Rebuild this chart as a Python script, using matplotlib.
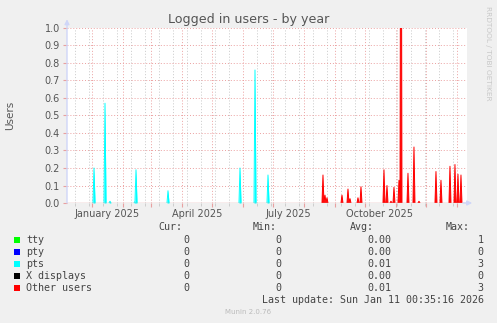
# Munin "Logged in users - by year" recreation
import matplotlib
matplotlib.use('Agg')
import matplotlib.pyplot as plt
import matplotlib.dates as mdates
import numpy as np

# graph time window (1 pixel = 1 day)
start = np.datetime64('2024-12-07')
end = np.datetime64('2026-01-11T00:35')

# pts sessions (cyan spikes)
pts_days = ['2025-01-03', '2025-01-14', '2025-01-19', '2025-02-13', '2025-02-14',
            '2025-03-18', '2025-05-29', '2025-06-13', '2025-06-26']
pts_vals = [0.2, 0.57, 0.01, 0.01, 0.19, 0.07, 0.2, 0.76, 0.16]

# other users (red spikes)
other_days = ['2025-08-20', '2025-08-22', '2025-08-24', '2025-09-08', '2025-09-14',
              '2025-09-16', '2025-09-24', '2025-09-27', '2025-10-20', '2025-10-23',
              '2025-10-27', '2025-10-30', '2025-11-04', '2025-11-06', '2025-11-13',
              '2025-11-19', '2025-11-24', '2025-12-11', '2025-12-16', '2025-12-25',
              '2025-12-30', '2026-01-02', '2026-01-05']
other_vals = [0.16, 0.045, 0.03, 0.045, 0.08,
              0.025, 0.03, 0.093, 0.19, 0.1,
              0.01, 0.09, 0.13, 3.0, 0.17,
              0.32, 0.01, 0.18, 0.13, 0.21,
              0.22, 0.165, 0.16]

# legend table
series_names = ['tty', 'pty', 'pts', 'X displays', 'Other users']
series_colors = ['#00FF00', '#0000FF', '#00FFFF', '#000000', '#FF0000']
cur_vals = ['0', '0', '0', '0', '0']
min_vals = ['0', '0', '0', '0', '0']
avg_vals = ['0.00', '0.00', '0.01', '0.00', '0.01']
max_vals = ['1', '0', '3', '0', '3']

month_labels = ['January 2025', 'April 2025', 'July 2025', 'October 2025']
month_label_pos = ['2025-01-16', '2025-04-16', '2025-07-16', '2025-10-16']

# daily series
days = np.arange(start, np.datetime64('2026-01-11'), np.timedelta64(1, 'D'))
pts = np.zeros(len(days))
other = np.zeros(len(days))
for d, v in zip(pts_days, pts_vals):
    pts[days == np.datetime64(d)] = v
for d, v in zip(other_days, other_vals):
    other[days == np.datetime64(d)] = v
x = mdates.date2num(days.astype('datetime64[s]').astype(object))


def spike_line(vals):
    # keep only the points that belong to a spike, so the baseline stays clean
    keep = vals > 0
    keep[1:] |= vals[:-1] > 0
    keep[:-1] |= vals[1:] > 0
    return np.ma.masked_where(~keep, vals)


fig = plt.figure(figsize=(4.97, 3.23), dpi=100, facecolor='#F0F0F0')
W, H = 497.0, 323.0
ax = fig.add_axes([67 / W, (H - 203) / H, 400 / W, 175 / H])
ax.set_facecolor('white')

# stacked areas: tty, pty, X are zero over the shown range
ax.fill_between(x, 0, pts, color='#00FFFF', lw=0, zorder=3)
ax.plot(x, spike_line(pts), color='#00FFFF', lw=0.7, zorder=3)
ax.fill_between(x, pts, pts + other, color='#FF0000', lw=0, zorder=3)
ax.plot(x, spike_line(other), color='#FF0000', lw=0.7, zorder=3)

xmin = mdates.date2num(start.astype('datetime64[s]').astype(object))
xmax = mdates.date2num(end.astype('datetime64[s]').astype(object))
ax.set_xlim(xmin, xmax)
ax.set_ylim(0, 1.0)

# grid: months major (red), two-week minor (grey)
months = np.arange(np.datetime64('2025-01'), np.datetime64('2026-02'), np.timedelta64(1, 'M'))
month_x = mdates.date2num(months.astype('datetime64[D]').astype('datetime64[s]').astype(object))
weeks = np.arange(np.datetime64('2024-12-15'), np.datetime64('2026-01-11'), np.timedelta64(14, 'D'))
week_x = mdates.date2num(weeks.astype('datetime64[s]').astype(object))
ax.set_xticks(month_x)
ax.set_xticks(week_x, minor=True)
ax.set_xticklabels([])
ax.set_yticks(np.arange(0, 1.01, 0.1))
ax.set_yticklabels(['%.1f' % v for v in np.arange(0, 1.01, 0.1)])

ax.grid(which='minor', axis='x', color='#C8C8C8', linestyle=(0, (1, 2)), lw=0.7, zorder=1)
ax.grid(which='major', axis='x', color='#EBA0A0', linestyle=(0, (1, 2)), lw=0.7, zorder=1)
ax.grid(which='major', axis='y', color='#EBA0A0', linestyle=(0, (1, 2)), lw=0.7, zorder=1)
ax.set_axisbelow(True)

ax.tick_params(axis='y', which='major', length=3, color='#E8A0A0', labelsize=7,
               labelcolor='#555555', pad=2)
ax.tick_params(axis='x', which='major', length=3, color='#E8A0A0')
ax.tick_params(axis='x', which='minor', length=2, color='#C8C8C8')
for s in ax.spines.values():
    s.set_visible(False)

# axes lines with arrows
ax.axhline(0, color='#E0A0A0', lw=1.0, zorder=4)
ax.annotate('', xy=(0, 1.05), xytext=(0, 0), xycoords='axes fraction',
            arrowprops=dict(arrowstyle='-|>', color='#CFD6F8', lw=1.0,
                            mutation_scale=7, shrinkA=0, shrinkB=0), zorder=5)
ax.annotate('', xy=(1.013, 0), xytext=(0.99, 0), xycoords='axes fraction',
            arrowprops=dict(arrowstyle='-|>', color='#CFD6F8', lw=1.0,
                            mutation_scale=7, shrinkA=0, shrinkB=0), zorder=5)

# month labels centred mid-month
for lab, pos in zip(month_labels, month_label_pos):
    px = mdates.date2num(np.datetime64(pos).astype('datetime64[s]').astype(object))
    ax.text(px, -0.035, lab, transform=ax.get_xaxis_transform(), ha='center', va='top',
            fontsize=7, color='#555555')

fig.text(248.5 / W, 1 - 19 / H, 'Logged in users - by year', ha='center', va='center',
         fontsize=9.1, color='#555555')
fig.text(10 / W, 1 - 115 / H, 'Users', rotation=90, ha='center', va='center',
         fontsize=7.5, color='#555555')
fig.text(488 / W, 1 - 53 / H, 'RRDTOOL / TOBI OETIKER', rotation=270, ha='center',
         va='center', fontsize=5.3, color='#C8C8C8')

# legend table
mono = 'DejaVu Sans Mono'
fs = 7.2
tc = '#444444'
fig.text(182 / W, 1 - 227.5 / H, 'Cur:', ha='right', va='center', family=mono, fontsize=fs, color=tc)
fig.text(277 / W, 1 - 227.5 / H, 'Min:', ha='right', va='center', family=mono, fontsize=fs, color=tc)
fig.text(374 / W, 1 - 227.5 / H, 'Avg:', ha='right', va='center', family=mono, fontsize=fs, color=tc)
fig.text(470 / W, 1 - 227.5 / H, 'Max:', ha='right', va='center', family=mono, fontsize=fs, color=tc)
row_y = [240, 252, 264, 276, 288]
for i in range(len(series_names)):
    y = 1 - row_y[i] / H
    fig.patches.append(plt.Rectangle((14 / W, y - 3 / H), 6 / W, 6 / H, transform=fig.transFigure,
                                     facecolor=series_colors[i], edgecolor='none'))
    fig.text(26 / W, y, series_names[i], ha='left', va='center', family=mono, fontsize=fs, color=tc)
    fig.text(189.5 / W, y, cur_vals[i], ha='right', va='center', family=mono, fontsize=fs, color=tc)
    fig.text(281.5 / W, y, min_vals[i], ha='right', va='center', family=mono, fontsize=fs, color=tc)
    fig.text(391.5 / W, y, avg_vals[i], ha='right', va='center', family=mono, fontsize=fs, color=tc)
    fig.text(483.5 / W, y, max_vals[i], ha='right', va='center', family=mono, fontsize=fs, color=tc)
fig.text(483.5 / W, 1 - 300 / H, 'Last update: Sun Jan 11 00:35:16 2026', ha='right', va='center',
         family=mono, fontsize=fs, color=tc)
fig.text(248 / W, 1 - 312 / H, 'Munin 2.0.76', ha='center', va='center', fontsize=5,
         color='#BBBBBB')

fig.savefig('out.png', dpi=100, facecolor='#F0F0F0')
